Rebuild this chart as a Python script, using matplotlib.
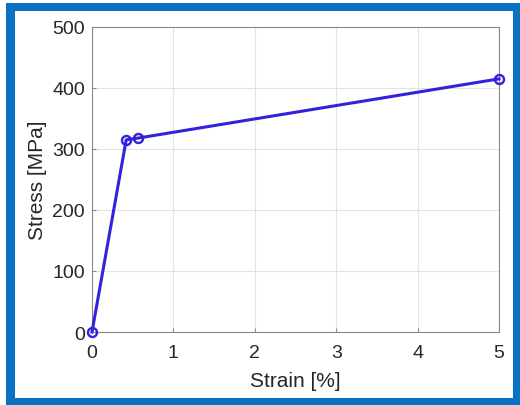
import matplotlib
matplotlib.use("Agg")
import matplotlib.pyplot as plt
from matplotlib.patches import Rectangle

# stress-strain points
strain = [0.0, 0.42, 0.57, 5.0]
stress = [0.0, 315, 318, 415]

x_ticks = [0, 1, 2, 3, 4, 5]
y_ticks = [0, 100, 200, 300, 400, 500]

W, H = 520, 406
plt.rcParams["font.family"] = ["Liberation Sans", "DejaVu Sans"]

fig = plt.figure(figsize=(W / 100, H / 100), dpi=100)
fig.patch.set_facecolor("white")


def px_rect(x0, y0, x1, y1, color):
    # pixel box in image coords (y down) -> figure fraction
    return Rectangle((x0 / W, 1 - y1 / H), (x1 - x0) / W, (y1 - y0) / H,
                     transform=fig.transFigure, facecolor=color,
                     edgecolor="none", zorder=-10)


fig.patches.append(px_rect(6, 4, 520, 406, "#0A72C2"))
fig.patches.append(px_rect(15, 12, 513, 399, "white"))

ax = fig.add_axes([92 / W, 1 - 333 / H, (499 - 92) / W, (333 - 28) / H])
ax.plot(strain, stress, color="#3322DD", lw=2.2, marker="o", ms=6.5,
        mfc="none", mew=1.7, clip_on=False, zorder=5)

ax.set_xlim(0, 5)
ax.set_ylim(0, 500)
ax.set_xticks(x_ticks)
ax.set_yticks(y_ticks)
ax.grid(True, color="#e3e3e3", lw=0.8)
ax.set_axisbelow(True)
for s in ax.spines.values():
    s.set_color("#8a8a8a")
    s.set_linewidth(0.8)
ax.tick_params(direction="in", length=3, color="#8a8a8a", labelsize=14,
               labelcolor="#262626", top=False, right=False)
ax.tick_params(axis="x", pad=9)
ax.tick_params(axis="y", pad=5)
ax.set_xlabel("Strain [%]", fontsize=15, color="#262626", labelpad=7)
ax.set_ylabel("Stress [MPa]", fontsize=15, color="#262626", labelpad=4)

fig.savefig("out.png", dpi=100)
